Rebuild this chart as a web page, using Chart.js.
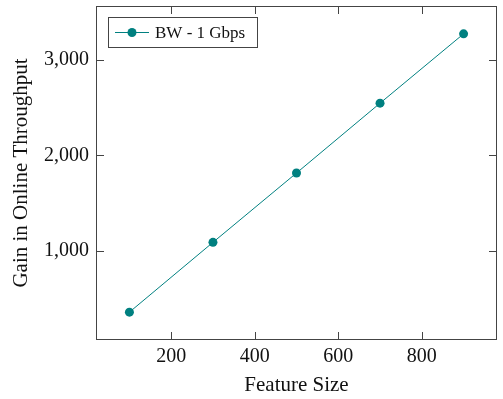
<!DOCTYPE html>
<html>
<head>
<meta charset="utf-8">
<script src="https://cdn.jsdelivr.net/npm/chart.js@4"></script>
<style>
  html, body { margin: 0; padding: 0; background: #fff; }
  #wrap { width: 503px; height: 399px; }
</style>
</head>
<body>
<div id="wrap"><canvas id="grafico" width="503" height="399"></canvas></div>
<script>
// Dados
const tamanhos = [100, 300, 500, 700, 900];          // Feature Size
const ganhos = [360, 1090, 1815, 2545, 3270];         // Gain in Online Throughput
const ticksX = [200, 400, 600, 800];
const ticksY = [1000, 2000, 3000];
const nomeSerie = 'BW - 1 Gbps';

const corSerie = 'rgb(0,128,128)';
const corMoldura = '#444';
const fonte = '"Liberation Serif", "Times New Roman", serif';

// Desenha a moldura, os ticks pra dentro e a legenda
const pluginMoldura = {
    id: 'moldura',
    afterDraw(chart) {
        const ctx = chart.ctx;
        const area = chart.chartArea;
        const sx = chart.scales.x;
        const sy = chart.scales.y;
        const tam = 8;
        ctx.save();
        ctx.strokeStyle = corMoldura;
        ctx.lineWidth = 1;
        ctx.strokeRect(area.left + 0.5, area.top + 0.5, area.right - area.left - 1, area.bottom - area.top - 1);
        ctx.beginPath();
        for (let i = 0; i < ticksX.length; i++) {
            const px = Math.round(sx.getPixelForValue(ticksX[i])) + 0.5;
            ctx.moveTo(px, area.bottom);
            ctx.lineTo(px, area.bottom - tam);
            ctx.moveTo(px, area.top);
            ctx.lineTo(px, area.top + tam);
        }
        for (let i = 0; i < ticksY.length; i++) {
            const py = Math.round(sy.getPixelForValue(ticksY[i])) + 0.5;
            ctx.moveTo(area.left, py);
            ctx.lineTo(area.left + tam, py);
            ctx.moveTo(area.right, py);
            ctx.lineTo(area.right - tam, py);
        }
        ctx.stroke();

        // Legenda dentro do grafico
        const lx = area.left + 12, ly = area.top + 11, lw = 149, lh = 30;
        ctx.fillStyle = '#fff';
        ctx.fillRect(lx, ly, lw, lh);
        ctx.strokeStyle = corMoldura;
        ctx.strokeRect(lx + 0.5, ly + 0.5, lw, lh);
        const cy = ly + lh / 2 + 0.5;
        ctx.strokeStyle = corSerie;
        ctx.beginPath();
        ctx.moveTo(lx + 7, cy);
        ctx.lineTo(lx + 41, cy);
        ctx.stroke();
        ctx.fillStyle = corSerie;
        ctx.beginPath();
        ctx.arc(lx + 24, cy, 4.5, 0, Math.PI * 2);
        ctx.fill();
        ctx.fillStyle = '#111';
        ctx.font = '17px ' + fonte;
        ctx.textBaseline = 'middle';
        ctx.fillText(chart.data.datasets[0].label, lx + 47, cy + 1);
        ctx.restore();
    }
};

const contexto = document.getElementById('grafico').getContext('2d');
new Chart(contexto, {
    type: 'line',
    data: {
        datasets: [{
            label: nomeSerie,
            data: tamanhos.map((t, i) => ({ x: t, y: ganhos[i] })),
            borderColor: corSerie,
            backgroundColor: corSerie,
            borderWidth: 1,
            pointRadius: 4.5,
            pointBorderWidth: 0,
            fill: false,
            tension: 0
        }]
    },
    options: {
        responsive: false,
        animation: false,
        devicePixelRatio: 1,
        layout: { padding: { top: 6, right: 6, left: 0, bottom: 0 } },
        plugins: { legend: { display: false }, tooltip: { enabled: false } },
        scales: {
            x: {
                type: 'linear',
                min: 20,
                max: 980,
                afterBuildTicks: s => { s.ticks = ticksX.map(v => ({ value: v })); },
                afterFit: s => { s.height = 59; s.paddingLeft = 0; s.paddingRight = 0; },
                grid: { display: false, drawTicks: false },
                border: { display: false },
                ticks: { color: '#111', font: { family: fonte, size: 20 }, padding: 5 },
                title: { display: true, text: 'Feature Size', color: '#111', font: { family: fonte, size: 21 }, padding: { top: 0, bottom: 1 } }
            },
            y: {
                min: 69,
                max: 3561,
                afterBuildTicks: s => { s.ticks = ticksY.map(v => ({ value: v })); },
                afterFit: s => { s.width = 96; s.paddingTop = 0; s.paddingBottom = 0; },
                grid: { display: false, drawTicks: false },
                border: { display: false },
                ticks: {
                    color: '#111',
                    font: { family: fonte, size: 20 },
                    padding: 7,
                    callback: v => v.toLocaleString('en-US')
                },
                title: { display: true, text: 'Gain in Online Throughput', color: '#111', font: { family: fonte, size: 21 }, padding: { top: 9, bottom: 0 } }
            }
        }
    },
    plugins: [pluginMoldura]
});
</script>
</body>
</html>
